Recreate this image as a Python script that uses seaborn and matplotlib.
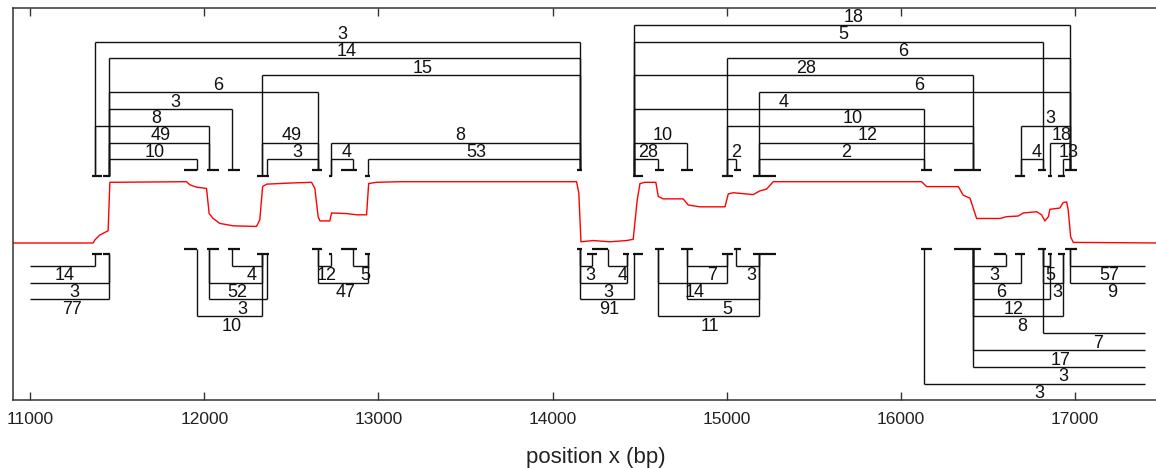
import matplotlib
matplotlib.use("Agg")
import matplotlib.pyplot as plt
import seaborn as sns
import pandas as pd

# ---------------- data ----------------
# read clusters at breakpoints (bp): anchor, read-span start/end, orientation
cluster_pos = [11372, 11454, 11959, 12028, 12160, 12329, 12362, 12654, 12727, 12855, 12941,
               14157, 14224, 14320, 14429, 14469, 14603, 14773, 15003, 15051, 15185,
               16135, 16416, 16602, 16689, 16814, 16855, 16930, 16971]
cluster_lo = [11353, 11416, 11883, 12017, 12137, 12300, 12338, 12616, 12717, 12784, 12925,
              14138, 14199, 14228, 14406, 14463, 14588, 14737, 14971, 15044, 15150,
              16118, 16306, 16536, 16656, 16790, 16846, 16905, 16943]
cluster_hi = [11410, 11458, 11959, 12085, 12204, 12338, 12373, 12674, 12734, 12878, 12951,
              14171, 14253, 14320, 14441, 14521, 14640, 14808, 15034, 15082, 15282,
              16177, 16458, 16603, 16713, 16833, 16866, 16943, 17010]
cluster_strand = ['+', '+', '-', '-', '-', '+', '+', '-', '+', '-', '+',
                  '-', '+', '-', '+', '+', '-', '-', '+', '-', '+',
                  '-', '-', '+', '+', '-', '+', '+', '-']

# partner outside the view: 0 = left of view, 30 = right of view
OFF_LEFT_BP, OFF_RIGHT_BP = 11000, 17400

# links above the coverage track (cluster numbers are 1-based)
upper_a = [1, 2, 6, 2, 2, 1, 2, 6, 9, 2, 7, 9, 11,
           16, 16, 19, 16, 21, 16, 19, 21, 21, 16, 16, 19, 25, 27, 25, 28]
upper_b = [12, 12, 12, 8, 5, 4, 4, 8, 12, 3, 8, 10, 12,
           29, 26, 29, 23, 29, 22, 23, 23, 22, 18, 17, 20, 29, 29, 26, 29]
upper_count = [3, 14, 15, 6, 3, 8, 49, 49, 8, 10, 3, 4, 53,
               18, 5, 6, 28, 6, 4, 10, 12, 2, 10, 28, 2, 3, 18, 4, 13]
upper_tier = [1, 2, 3, 4, 5, 6, 7, 7, 7, 8, 8, 8, 8,
              0, 1, 2, 3, 4, 5, 6, 7, 8, 7, 8, 8, 6, 7, 8, 8]

# links below the coverage track
lower_a = [0, 0, 0, 5, 4, 4, 3, 8, 10, 8, 12, 14, 12, 12, 18, 20, 17, 18, 17,
           23, 23, 26, 29, 26, 29, 23, 23, 26, 23, 23, 22]
lower_b = [1, 2, 2, 6, 6, 7, 6, 9, 11, 11, 13, 15, 15, 16, 19, 21, 19, 21, 21,
           24, 25, 27, 30, 28, 30, 27, 28, 30, 30, 30, 30]
lower_count = [14, 3, 77, 4, 52, 3, 10, 12, 5, 47, 3, 4, 3, 91, 7, 3, 14, 5, 11,
               3, 6, 5, 57, 3, 9, 12, 8, 7, 17, 3, 3]
lower_tier = [0, 1, 2, 0, 1, 2, 3, 0, 0, 1, 0, 0, 1, 2, 0, 0, 1, 2, 3,
              0, 1, 0, 0, 1, 1, 2, 3, 4, 5, 6, 7]

# relative read coverage along the region
cov_x = [10900, 11362, 11372, 11400, 11448, 11458, 11898, 11917, 11956, 12013, 12028, 12051,
         12089, 12166, 12300, 12319, 12335, 12358, 12510, 12616, 12635, 12654, 12664, 12721,
         12731, 12817, 12875, 12932, 12944, 12989, 13123, 14138, 14151, 14163, 14233, 14329,
         14425, 14463, 14486, 14502, 14530, 14593, 14607, 14635, 14750, 14779, 14846, 14990,
         15009, 15037, 15152, 15190, 15229, 15267, 16119, 16148, 16330, 16358, 16397, 16435,
         16569, 16608, 16674, 16703, 16780, 16808, 16827, 16847, 16856, 16913, 16932, 16952,
         16961, 16975, 16990, 17500]
cov_y = [0.0, 0.0, 0.05, 0.13, 0.20, 0.99, 1.0, 0.95, 0.91, 0.89, 0.48, 0.40,
         0.32, 0.28, 0.27, 0.38, 0.92, 0.96, 0.98, 0.99, 0.89, 0.43, 0.36, 0.36,
         0.49, 0.48, 0.46, 0.46, 0.97, 0.99, 1.0, 1.0, 0.81, 0.02, 0.04, 0.02,
         0.04, 0.06, 0.70, 0.97, 0.99, 0.99, 0.76, 0.72, 0.72, 0.62, 0.59, 0.59,
         0.80, 0.82, 0.79, 0.85, 0.88, 1.0, 1.0, 0.92, 0.92, 0.78, 0.73, 0.40,
         0.40, 0.43, 0.44, 0.49, 0.51, 0.46, 0.36, 0.43, 0.55, 0.57, 0.66, 0.67,
         0.54, 0.10, 0.01, 0.0]

xticks = [11000, 12000, 13000, 14000, 15000, 16000, 17000]
xlabel = "position x (bp)"

# ---------------- layout (pixel-like vertical units) ----------------
W, H = 1156, 468
AX_L, AX_R, AX_T, AX_B = 12.7, 1179.5, 8.0, 400.0
XMIN, XMAX = 10900, 17600
UP_TIER0, TIER_STEP = 24.7, 16.83
LO_TIER0 = 265.7
UP_FOOT = {'+': 176.0, '-': 170.0}
LO_FOOT = {'+': 254.3, '-': 249.0}
COV_BASE, COV_SCALE = 243.0, 61.3
BP_PER_PX = (XMAX - XMIN) / (AX_R - AX_L)
LINE_C = '#111111'

sns.set_theme(style="ticks")
plt.rcParams['font.family'] = ['Liberation Sans', 'DejaVu Sans']

fig = plt.figure(figsize=(W / 100, H / 100), dpi=100)
ax = fig.add_axes([AX_L / W, 1 - AX_B / H, (AX_R - AX_L) / W, (AX_B - AX_T) / H])
ax.set_xlim(XMIN, XMAX)
ax.set_ylim(AX_B, AX_T)


def endpoint(idx):
    if idx == 0:
        return OFF_LEFT_BP, None
    if idx == 30:
        return OFF_RIGHT_BP, None
    return cluster_pos[idx - 1], cluster_strand[idx - 1]


def label_dx(s):
    return (4.5 if len(s) == 1 else 2.0) * BP_PER_PX


def draw_links(a_list, b_list, counts, tiers, tier0, step, feet, upper):
    used = set()
    for a, b, c, t in zip(a_list, b_list, counts, tiers):
        y = tier0 + step * t
        xa, sa = endpoint(a)
        xb, sb = endpoint(b)
        ax.plot([xa, xb], [y, y], color=LINE_C, lw=1.0, solid_capstyle='butt')
        for x, s, idx in ((xa, sa, a), (xb, sb, b)):
            if s is not None:
                ax.plot([x, x], [y, feet[s]], color=LINE_C, lw=1.0, solid_capstyle='butt')
                used.add(idx)
        txt = str(c)
        xm = (xa + xb) / 2 + label_dx(txt)
        if upper:
            ax.text(xm, y - 2.2, txt, ha='center', va='baseline', fontsize=13, color=LINE_C)
        else:
            ax.text(xm, y + 14.8, txt, ha='center', va='baseline', fontsize=13, color=LINE_C)
    for idx in used:
        s = cluster_strand[idx - 1]
        ax.plot([cluster_lo[idx - 1], cluster_hi[idx - 1]], [feet[s], feet[s]],
                color=LINE_C, lw=1.6, solid_capstyle='butt')


draw_links(upper_a, upper_b, upper_count, upper_tier, UP_TIER0, TIER_STEP, UP_FOOT, True)
draw_links(lower_a, lower_b, lower_count, lower_tier, LO_TIER0, TIER_STEP, LO_FOOT, False)

cov_df = pd.DataFrame({'x': cov_x, 'cov': cov_y})
cov_df['y'] = COV_BASE - COV_SCALE * cov_df['cov']
sns.lineplot(data=cov_df, x='x', y='y', color='red', lw=1.0, sort=False,
             estimator=None, ax=ax)

# axes styling
ax.set_xticks(xticks)
ax.set_xticklabels([str(t) for t in xticks])
ax.set_yticks([])
ax.set_ylabel('')
ax.tick_params(axis='x', which='both', direction='in', top=True, bottom=True,
               length=5.5, width=1.0, color='#333333', labelsize=12.5,
               labelcolor='#222222', pad=9.0)
ax.set_xlabel(xlabel, fontsize=16, color='#222222', labelpad=14)
for side in ('left', 'top', 'bottom', 'right'):
    ax.spines[side].set_color('#333333')
    ax.spines[side].set_linewidth(1.1)
    ax.spines[side].set_visible(True)

fig.savefig('out.png', dpi=100)
